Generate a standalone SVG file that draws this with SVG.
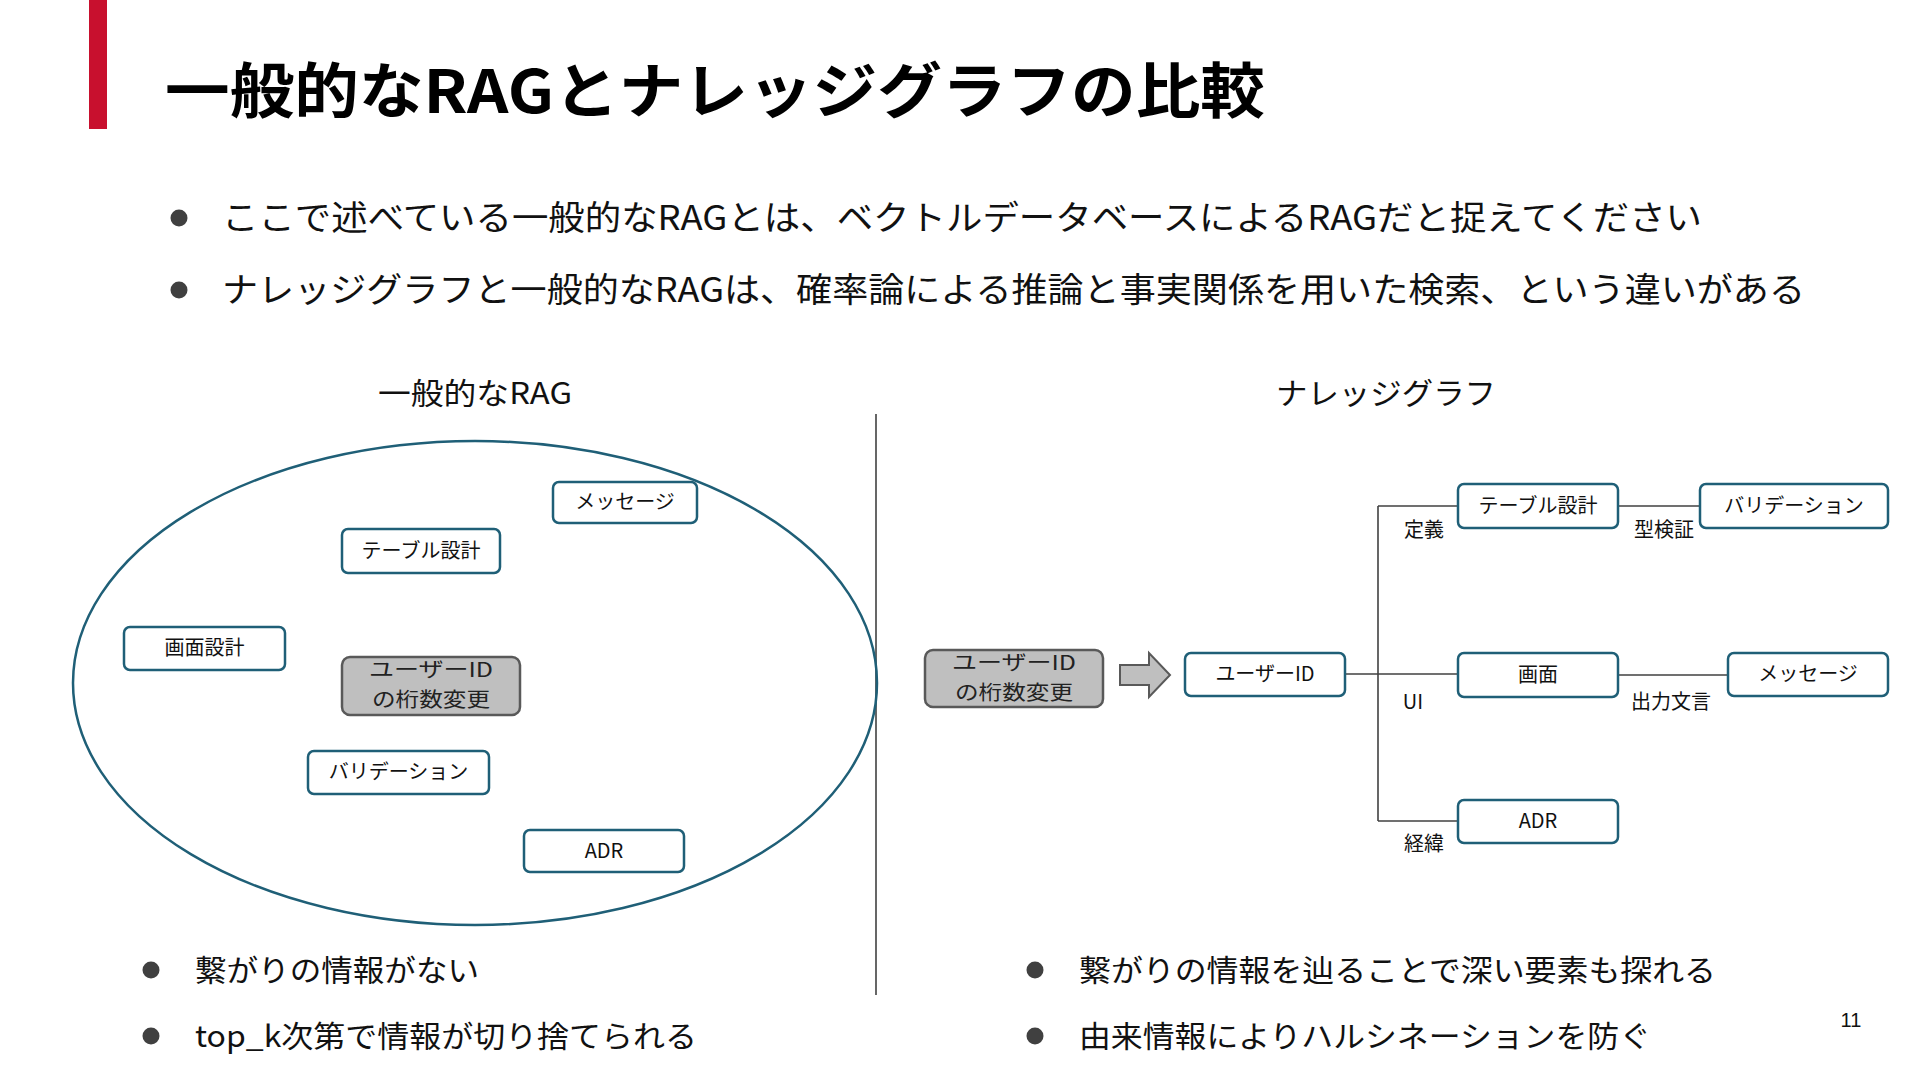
<svg xmlns="http://www.w3.org/2000/svg" width="1920" height="1080" viewBox="0 0 1920 1080">
<style>
text{font-family:"Noto Sans CJK JP","Noto Sans",sans-serif;fill:#111}
.title{font-size:60px;font-weight:bold;fill:#000}
.b1{font-size:34px}
.h{font-size:30px}
.bt{font-size:30px}
.n rect{fill:#fff;stroke:#1f5f77;stroke-width:2.5}
.n text{font-size:20px;text-anchor:middle}
.g rect{fill:#bfbfbf;stroke:#595959;stroke-width:2.5}
.g text{font-size:20px;text-anchor:middle;fill:#222}
.lbl{font-size:20px;text-anchor:middle}
.dot{fill:#404040}
.conn line{stroke:#404040;stroke-width:1.6}
</style>
<rect width="1920" height="1080" fill="#fff"/>
<rect x="89" y="0" width="18" height="129" fill="#c8102e"/>
<text class="title" x="165" y="113" textLength="1100" lengthAdjust="spacingAndGlyphs">一般的なRAGとナレッジグラフの比較</text>

<circle class="dot" cx="179" cy="218" r="8.5"/>
<text class="b1" x="222" y="230" textLength="1480" lengthAdjust="spacingAndGlyphs">ここで述べている一般的なRAGとは、ベクトルデータベースによるRAGだと捉えてください</text>
<circle class="dot" cx="179" cy="290" r="8.5"/>
<text class="b1" x="222" y="302" textLength="1583" lengthAdjust="spacingAndGlyphs">ナレッジグラフと一般的なRAGは、確率論による推論と事実関係を用いた検索、という違いがある</text>

<text class="h" x="378" y="404" textLength="194" lengthAdjust="spacingAndGlyphs">一般的なRAG</text>
<text class="h" x="1276" y="404" textLength="220" lengthAdjust="spacingAndGlyphs">ナレッジグラフ</text>

<line x1="876" y1="414" x2="876" y2="995" stroke="#404040" stroke-width="1.6"/>

<ellipse cx="475" cy="683" rx="402" ry="242" fill="none" stroke="#1f5f77" stroke-width="2.5"/>

<g id="left-message" class="n"><rect x="553" y="482" width="144" height="41" rx="6"/><text x="625" y="509">メッセージ</text></g>
<g id="left-table" class="n"><rect x="342" y="529" width="158" height="44" rx="6"/><text x="421" y="558">テーブル設計</text></g>
<g id="left-screen" class="n"><rect x="124" y="627" width="161" height="43" rx="6"/><text x="204.5" y="655">画面設計</text></g>
<g id="left-change" class="g"><rect x="342" y="657" width="178" height="58" rx="8"/><text x="431" y="677" textLength="124" lengthAdjust="spacingAndGlyphs">ユーザーID</text><text x="431" y="707" textLength="118" lengthAdjust="spacingAndGlyphs">の桁数変更</text></g>
<g id="left-validation" class="n"><rect x="308" y="751" width="181" height="43" rx="6"/><text x="398.5" y="779">バリデーション</text></g>
<g id="left-adr" class="n"><rect x="524" y="830" width="160" height="42" rx="6"/><text x="604" y="858">ADR</text></g>

<g id="connectors" class="conn">
<line x1="1378" y1="506" x2="1378" y2="821"/>
<line x1="1345" y1="674" x2="1458" y2="674"/>
<line x1="1378" y1="506" x2="1458" y2="506"/>
<line x1="1378" y1="821" x2="1458" y2="821"/>
<line x1="1618" y1="506" x2="1700" y2="506"/>
<line x1="1618" y1="675" x2="1728" y2="675"/>
</g>

<g id="right-change" class="g"><rect x="925" y="650" width="178" height="57" rx="8"/><text x="1014" y="670" textLength="124" lengthAdjust="spacingAndGlyphs">ユーザーID</text><text x="1014" y="700" textLength="118" lengthAdjust="spacingAndGlyphs">の桁数変更</text></g>
<g id="arrow"><path d="M1120,665 H1149 V653 L1170,675 L1149,697 V685 H1120 Z" fill="#bfbfbf" stroke="#595959" stroke-width="2"/></g>
<g id="right-userid" class="n"><rect x="1185" y="653" width="160" height="43" rx="6"/><text x="1265" y="681">ユーザーID</text></g>
<g id="right-table" class="n"><rect x="1458" y="484" width="160" height="44" rx="6"/><text x="1538" y="513">テーブル設計</text></g>
<g id="right-validation" class="n"><rect x="1700" y="484" width="188" height="44" rx="6"/><text x="1794" y="513">バリデーション</text></g>
<g id="right-screen" class="n"><rect x="1458" y="653" width="160" height="44" rx="6"/><text x="1538" y="682">画面</text></g>
<g id="right-message" class="n"><rect x="1728" y="653" width="160" height="43" rx="6"/><text x="1808" y="681">メッセージ</text></g>
<g id="right-adr" class="n"><rect x="1458" y="800" width="160" height="43" rx="6"/><text x="1538" y="828">ADR</text></g>

<text class="lbl" x="1424" y="537">定義</text>
<text class="lbl" x="1664" y="537">型検証</text>
<text class="lbl" x="1413" y="709">UI</text>
<text class="lbl" x="1671" y="709">出力文言</text>
<text class="lbl" x="1424" y="851">経緯</text>

<circle class="dot" cx="151" cy="970" r="8.5"/>
<text class="bt" x="195" y="981" textLength="284" lengthAdjust="spacingAndGlyphs">繋がりの情報がない</text>
<circle class="dot" cx="151" cy="1036" r="8.5"/>
<text class="bt" x="195" y="1047" textLength="502" lengthAdjust="spacingAndGlyphs">top_k次第で情報が切り捨てられる</text>
<circle class="dot" cx="1035" cy="970" r="8.5"/>
<text class="bt" x="1079" y="981" textLength="637" lengthAdjust="spacingAndGlyphs">繋がりの情報を辿ることで深い要素も探れる</text>
<circle class="dot" cx="1035" cy="1036" r="8.5"/>
<text class="bt" x="1079" y="1047" textLength="572" lengthAdjust="spacingAndGlyphs">由来情報によりハルシネーションを防ぐ</text>

<text x="1851" y="1027" font-size="20" text-anchor="middle" style="font-family:'Liberation Sans',sans-serif">11</text>
</svg>
